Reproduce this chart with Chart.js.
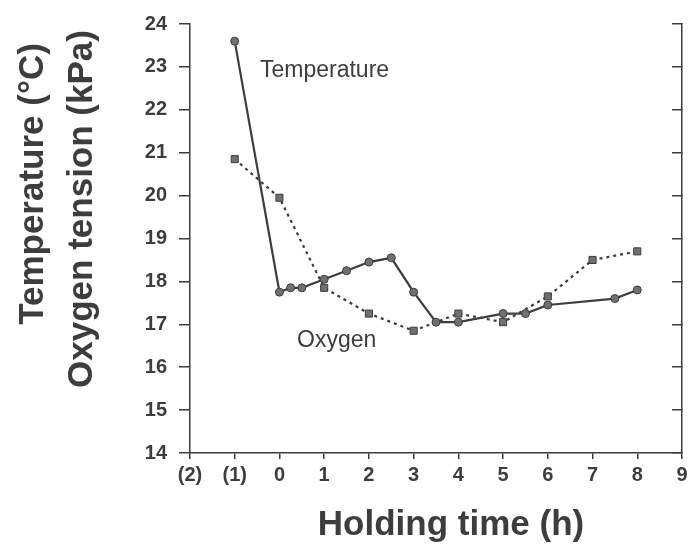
<!DOCTYPE html>
<html>
<head>
<meta charset="utf-8">
<title>Holding time</title>
<script src="https://cdn.jsdelivr.net/npm/chart.js@4"></script>
<style>
    body { margin: 0; background: #ffffff; }
    #holdingChart { display: block; }
</style>
</head>
<body>
<canvas id="holdingChart" width="688" height="548"></canvas>
<script>
// values
const tempTimes = [-1, 0, 0.25, 0.5, 1, 1.5, 2, 2.5, 3, 3.5, 4, 5, 5.5, 6, 7.5, 8];
const tempValues = [23.6, 17.75, 17.85, 17.85, 18.05, 18.25, 18.45, 18.55, 17.75, 17.05, 17.05, 17.25, 17.25, 17.45, 17.6, 17.8];

const oxyTimes = [-1, 0, 1, 2, 3, 4, 5, 6, 7, 8];
const oxyValues = [20.85, 19.95, 17.85, 17.25, 16.85, 17.25, 17.05, 17.65, 18.5, 18.7];

const xTickValues = [-2, -1, 0, 1, 2, 3, 4, 5, 6, 7, 8, 9];
const xTickLabels = ['(2)', '(1)', '0', '1', '2', '3', '4', '5', '6', '7', '8', '9'];
const yTickValues = [14, 15, 16, 17, 18, 19, 20, 21, 22, 23, 24];

const ink = '#3d3d3d';
const tickFont = { family: 'Liberation Sans, Arial, sans-serif', size: 20, weight: 'bold' };

function toPoints(xs, ys) {
    return xs.map((x, i) => ({ x: x, y: ys[i] }));
}

// axis titles and the two curve labels
const textPlugin = {
    id: 'textPlugin',
    afterDraw(chart) {
        const c = chart.ctx;
        c.save();
        c.fillStyle = ink;

        c.font = 'bold 35px "Liberation Sans", Arial, sans-serif';
        c.textAlign = 'center';
        c.textBaseline = 'alphabetic';
        c.fillText('Holding time (h)', 451, 535);

        c.save();
        c.translate(43, 184);
        c.rotate(-Math.PI / 2);
        c.fillText('Temperature (°C)', 0, 0);
        c.restore();

        c.save();
        c.translate(92, 209);
        c.rotate(-Math.PI / 2);
        c.fillText('Oxygen tension (kPa)', 0, 0);
        c.restore();

        c.font = '23px "Liberation Sans", Arial, sans-serif';
        c.textAlign = 'left';
        c.fillText('Temperature', 260, 77);
        c.fillText('Oxygen', 297, 347);
        c.restore();
    }
};

const ctx = document.getElementById('holdingChart').getContext('2d');

const holdingChart = new Chart(ctx, {
    type: 'scatter',
    data: {
        datasets: [{
            label: 'Temperature',
            data: toPoints(tempTimes, tempValues),
            showLine: true,
            borderColor: ink,
            borderWidth: 2.2,
            pointStyle: 'circle',
            pointRadius: 4,
            pointBackgroundColor: '#707070',
            pointBorderColor: ink,
            pointBorderWidth: 1
        }, {
            label: 'Oxygen',
            data: toPoints(oxyTimes, oxyValues),
            showLine: true,
            borderColor: ink,
            borderWidth: 2.2,
            borderDash: [3, 4],
            pointStyle: 'rect',
            pointRadius: 5,
            pointBackgroundColor: '#707070',
            pointBorderColor: ink,
            pointBorderWidth: 1
        }]
    },
    options: {
        responsive: false,
        animation: false,
        layout: { padding: { top: 20, right: 0, left: 0, bottom: 0 } },
        plugins: {
            legend: { display: false },
            tooltip: { enabled: false }
        },
        scales: {
            x: {
                type: 'linear',
                min: -2,
                max: 9,
                afterBuildTicks: (scale) => {
                    scale.ticks = xTickValues.map(v => ({ value: v }));
                },
                afterFit: (scale) => {
                    scale.height = 95;
                    scale.paddingLeft = 0;
                    scale.paddingRight = 0;
                },
                border: { color: ink, width: 1.5 },
                grid: { drawOnChartArea: false, tickLength: 6, color: ink, lineWidth: 1.5 },
                ticks: {
                    color: ink,
                    font: tickFont,
                    padding: 4,
                    maxRotation: 0,
                    autoSkip: false,
                    callback: (value) => xTickLabels[xTickValues.indexOf(value)]
                }
            },
            y: {
                min: 14,
                max: 24,
                afterBuildTicks: (scale) => {
                    scale.ticks = yTickValues.map(v => ({ value: v }));
                },
                afterFit: (scale) => {
                    scale.width = 190;
                },
                border: { color: ink, width: 1.5 },
                grid: { drawOnChartArea: false, tickLength: 11, color: ink, lineWidth: 1.5 },
                ticks: {
                    color: ink,
                    font: tickFont,
                    padding: 12
                }
            },
            y2: {
                position: 'right',
                min: 14,
                max: 24,
                afterBuildTicks: (scale) => {
                    scale.ticks = yTickValues.map(v => ({ value: v }));
                },
                afterFit: (scale) => {
                    scale.width = 5;
                },
                border: { color: ink, width: 1.5 },
                grid: { drawOnChartArea: false, tickLength: -10, color: ink, lineWidth: 1.5 },
                ticks: { display: false }
            }
        }
    },
    plugins: [textPlugin]
});
</script>
</body>
</html>
